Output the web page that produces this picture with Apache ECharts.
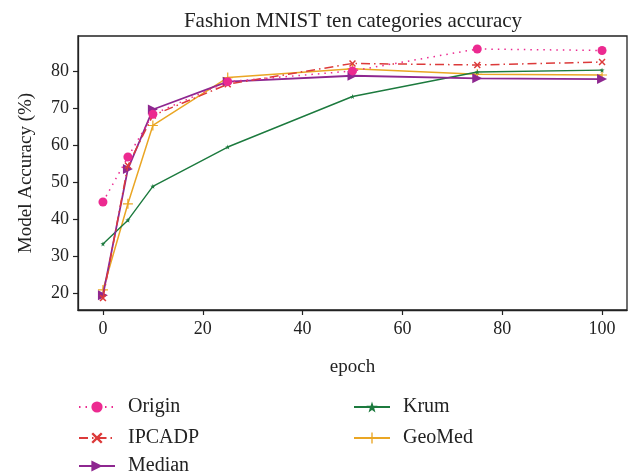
<!DOCTYPE html>
<html lang="en">
<head>
    <meta charset="UTF-8">
    <script src="https://cdn.jsdelivr.net/npm/echarts@6/dist/echarts.min.js"></script>
    <title>Fashion MNIST</title>
</head>
<body style="margin:0;background:#fff;">
<div id="main" style="width: 632px;height:476px;"></div>

<script type="text/javascript">
    var epochs = [0, 5, 10, 25, 50, 75, 100];
    var origin = [44.7, 56.8, 68.3, 77.1, 80.0, 85.9, 85.5];
    var ipcadp = [18.8, 54.5, 68.0, 76.4, 82.0, 81.6, 82.4];
    var median = [19.6, 53.6, 69.6, 77.1, 78.7, 78.0, 77.8];
    var krum = [33.4, 39.8, 48.9, 59.5, 73.1, 79.7, 80.2];
    var geomed = [21.0, 44.2, 65.3, 78.2, 80.6, 79.1, 78.9];
    var xTicks = [0, 20, 40, 60, 80, 100];
    var yTicks = [20, 30, 40, 50, 60, 70, 80];

    var font = 'Liberation Serif';
    var crossPath = 'path://M0,1.5L1.5,0L5,3.5L8.5,0L10,1.5L6.5,5L10,8.5L8.5,10L5,6.5L1.5,10L0,8.5L3.5,5Z';
    var plusPath = 'path://M4.4,0L5.6,0L5.6,4.4L10,4.4L10,5.6L5.6,5.6L5.6,10L4.4,10L4.4,5.6L0,5.6L0,4.4L4.4,4.4Z';
    var starPath = 'path://M5,0L6.2,3.6L10,3.6L7,5.9L8.1,9.5L5,7.3L1.9,9.5L3,5.9L0,3.6L3.8,3.6Z';

    function pairs(vals) {
        var out = [];
        for (var i = 0; i < epochs.length; i++) {
            out.push([epochs[i], vals[i]]);
        }
        return out;
    }

    // one legend box per entry, placed like the two-column matplotlib legend
    function legendItem(name, left, top) {
        return {
            data: [name],
            left: left,
            top: top,
            padding: 0,
            itemWidth: 36,
            itemHeight: 14,
            textStyle: {fontFamily: font, fontSize: 20, color: '#222', padding: [0, 0, 0, 8]}
        };
    }

    var tickStyle = {color: '#222', width: 1.2};

    var myChart = echarts.init(document.getElementById('main'));
    var option = {
        animation: false,
        backgroundColor: '#fff',
        title: {
            text: 'Fashion MNIST ten categories accuracy',
            left: 348,
            top: 6,
            textAlign: 'center',
            textStyle: {fontFamily: font, fontWeight: 'normal', fontSize: 21, color: '#222'}
        },
        legend: [
            legendItem('Origin', 78, 397),
            legendItem('IPCADP', 78, 428),
            legendItem('Median', 78, 456),
            legendItem('Krum', 353, 397),
            legendItem('GeoMed', 353, 428)
        ],
        grid: {
            left: 78,
            right: 5,
            top: 36,
            bottom: 166,
            show: true,
            borderColor: '#222',
            borderWidth: 1.3,
            containLabel: false
        },
        xAxis: {
            type: 'value',
            min: -5,
            max: 105,
            name: 'epoch',
            nameLocation: 'middle',
            nameGap: 48,
            nameTextStyle: {fontFamily: font, fontSize: 19, color: '#222'},
            splitLine: {show: false},
            axisLine: {show: true, onZero: false, lineStyle: {color: '#222', width: 1.3}},
            axisTick: {show: true, inside: false, customValues: xTicks, length: 5, lineStyle: tickStyle},
            axisLabel: {customValues: xTicks, fontFamily: font, fontSize: 18, color: '#222', margin: 10}
        },
        yAxis: {
            type: 'value',
            min: 15.6,
            max: 89.4,
            name: 'Model Accuracy (%)',
            nameLocation: 'middle',
            nameGap: 42,
            nameTextStyle: {fontFamily: font, fontSize: 19, color: '#222'},
            splitLine: {show: false},
            axisLine: {show: true, onZero: false, lineStyle: {color: '#222', width: 1.3}},
            axisTick: {show: true, inside: false, customValues: yTicks, length: 5, lineStyle: tickStyle},
            axisLabel: {customValues: yTicks, fontFamily: font, fontSize: 18, color: '#222', margin: 9}
        },
        series: [{
            name: 'Origin',
            type: 'line',
            data: pairs(origin),
            color: '#ec2a90',
            symbol: 'circle',
            symbolSize: 9,
            lineStyle: {width: 1.5, type: [1.5, 5]},
            z: 5
        }, {
            name: 'IPCADP',
            type: 'line',
            data: pairs(ipcadp),
            color: '#dc3a3a',
            symbol: crossPath,
            symbolSize: 7,
            lineStyle: {width: 1.5, type: [9, 4, 1.5, 4]},
            z: 4
        }, {
            name: 'Median',
            type: 'line',
            data: pairs(median),
            color: '#8e2790',
            symbol: 'triangle',
            symbolRotate: -90,
            symbolSize: 10,
            lineStyle: {width: 1.8},
            z: 3
        }, {
            name: 'Krum',
            type: 'line',
            data: pairs(krum),
            color: '#1c7a3e',
            symbol: starPath,
            symbolSize: 5,
            lineStyle: {width: 1.4},
            z: 2
        }, {
            name: 'GeoMed',
            type: 'line',
            data: pairs(geomed),
            color: '#eaa624',
            symbol: plusPath,
            symbolSize: 10,
            lineStyle: {width: 1.5},
            z: 1
        }]
    };
    myChart.setOption(option);
</script>
</body>
</html>
